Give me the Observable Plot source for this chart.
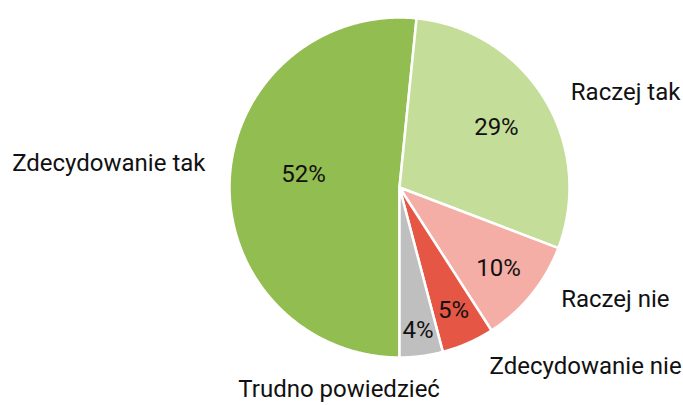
<!DOCTYPE html>
<html><head><meta charset="utf-8">
<script src="https://cdn.jsdelivr.net/npm/d3@7"></script>
<script src="https://cdn.jsdelivr.net/npm/@observablehq/plot@0.6"></script>
<style>body{margin:0;background:#fff;} svg{display:block;}</style>
</head><body><div id="chart"></div>
<script>
const categories = ["Zdecydowanie tak", "Raczej tak", "Raczej nie", "Zdecydowanie nie", "Trudno powiedzieć"];
const values = [51.6, 29.2, 10.1, 5.0, 4.1];
const pctLabels = ["52%", "29%", "10%", "5%", "4%"];
const colors = ["#92bd50", "#c4de9a", "#f4aea6", "#e55645", "#bfbfbf"];

// layout (radius units / degrees)
const W = 683, H = 405, R = 170, CX = 399, CY = 187;
const pctRadius = [0.57, 0.67, 0.75, 0.79, 0.85];
const pctAngleNudge = [4.8, 0, 0, 0, 0];
const outerLabelXY = [[-1.71, 0.14], [1.33, 0.56], [1.27, -0.66], [1.095, -1.05], [-0.355, -1.19]];

const arcs = d3.pie().sort(null).startAngle(Math.PI).endAngle(3 * Math.PI)(values);
const wedgePts = [];
arcs.forEach((a, i) => {
  wedgePts.push({cat: categories[i], x: 0, y: 0});
  const n = Math.max(4, Math.ceil((a.endAngle - a.startAngle) / 0.005));
  for (let k = 0; k <= n; k++) {
    const t = a.startAngle + (a.endAngle - a.startAngle) * k / n;
    wedgePts.push({cat: categories[i], x: Math.sin(t), y: Math.cos(t)});
  }
});
const pctData = arcs.map((a, i) => {
  const m = (a.startAngle + a.endAngle) / 2 + pctAngleNudge[i] * Math.PI / 180;
  return {label: pctLabels[i], x: pctRadius[i] * Math.sin(m), y: pctRadius[i] * Math.cos(m)};
});
const outerData = categories.map((c, i) => ({label: c, x: outerLabelXY[i][0], y: outerLabelXY[i][1]}));

const plot = Plot.plot({
  width: W, height: H,
  margin: 0,
  style: {fontFamily: "Roboto", background: "#fff"},
  x: {domain: [-CX / R, (W - CX) / R], axis: null},
  y: {domain: [-(H - CY) / R, CY / R], axis: null},
  color: {domain: categories, range: colors},
  marks: [
    Plot.line(wedgePts, {x: "x", y: "y", z: "cat", fill: "cat", stroke: "#fff", strokeWidth: 2.5, curve: "linear-closed", strokeLinejoin: "round"}),
    Plot.text(pctData, {x: "x", y: "y", text: "label", fontSize: 24, fill: "#111", lineAnchor: "middle"}),
    Plot.text(outerData, {x: "x", y: "y", text: "label", fontSize: 24, fill: "#111", lineAnchor: "middle"})
  ]
});
document.getElementById("chart").appendChild(plot);
</script>
</body></html>
